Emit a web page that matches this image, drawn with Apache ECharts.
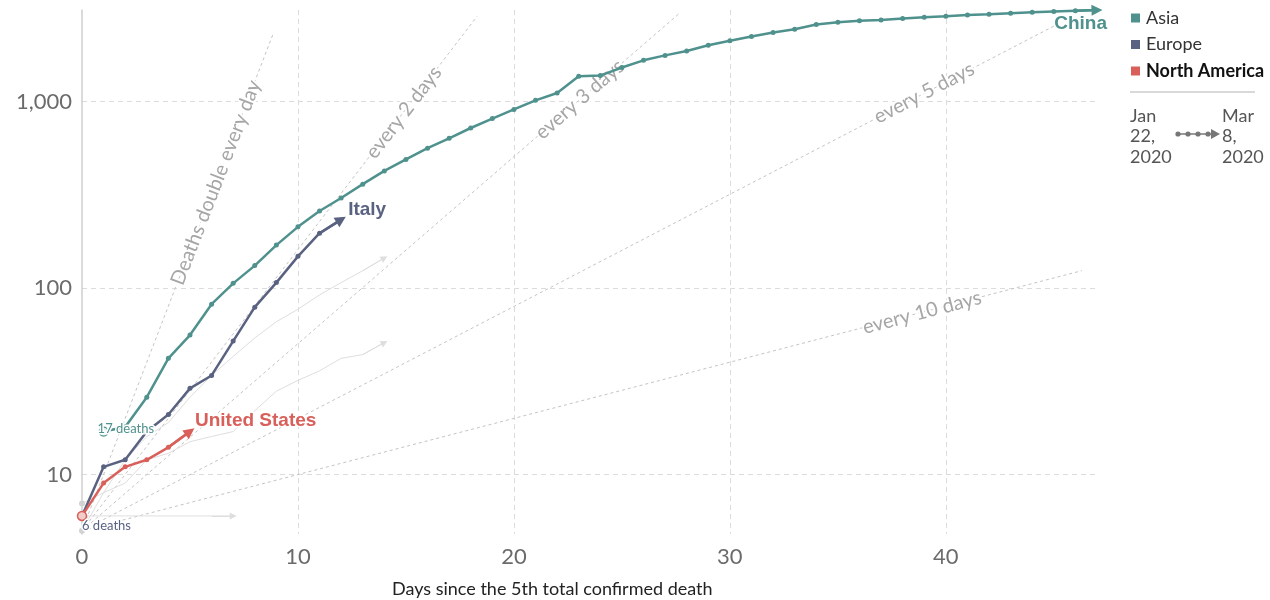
<!DOCTYPE html>
<html>
<head>
<meta charset="utf-8">
<script src="https://cdn.jsdelivr.net/npm/echarts@6/dist/echarts.min.js"></script>
<style>
html,body{margin:0;padding:0;background:#fff;}
#chart{width:1270px;height:600px;}
</style>
</head>
<body>
<div id="chart"></div>
<script>
// ---------- data ----------
const chinaStartDay = 1;
const chinaDeaths = [17,18,26,42,56,82,106,132,170,213,259,304,361,425,490,563,636,722,811,908,
  1016,1113,1368,1380,1523,1665,1770,1868,2004,2118,2236,2345,2442,2592,2663,2715,2744,2788,2835,2870,
  2912,2943,2981,3012,3042,3070,3097];
const italyStartDay = 0;
const italyDeaths = [6,11,12,17,21,29,34,52,79,107,148,197,233];
const usStartDay = 0;
const usDeaths = [6,9,11,12,14,17];
// other countries (unlabelled light-grey lines)
const otherStartDay = 0;
const otherA = [5,8,12,16,19,26,34,43,54,66,77,92,107,124,145];
const otherB = [7,8,9,12,13,15,16,17,22,28,32,36,42,44,51];
const otherC = [6,6,6,6,6,6,6,6];

const xTickLabels = [0,10,20,30,40];
const yTickLabels = [10,100,1000];

// doubling guide lines
const guideNames = ['Deaths double every day','every 2 days','every 3 days','every 5 days','every 10 days'];
const guideStart = [0,5];
const guideEnds = [[8.85,2310],[18.3,2870],[27.7,3000],[45,2540],[46.3,124]];
const guideLabelAt = [[6.2,368],[14.9,875],[23.05,1027],[39.0,1114],[38.9,74]];

const legendNames = ['Asia','Europe','North America'];
const dateFrom = 'Jan\n22,\n2020';
const dateTo = 'Mar\n8,\n2020';
const xAxisTitle = 'Days since the 5th total confirmed death';

// ---------- styling ----------
const teal = '#4f918d', slate = '#5a6281', red = '#d9605a', lightGray = '#dedede';
const FONT = 'Lato, "Open Sans", sans-serif';

function toPairs(values, startDay){ return values.map((v,i)=>[startDay+i, v]); }

function countryLine(name, values, startDay, color, width, opts){
  const pairs = toPairs(values, startDay);
  const n = pairs.length;
  const data = pairs.map((p,i)=>{
    const item = {value:p};
    if (i === 0){
      if (opts.first){ item.symbol='circle'; item.symbolSize=opts.first.size; item.itemStyle=opts.first.style; }
      else item.symbol='none';
    } else if (i === n-1 || !opts.dots){
      item.symbol='none';
    }
    return item;
  });
  return {
    name, type:'line', data, z:opts.z, silent:true, clip:false,
    symbol:'circle', symbolSize:opts.dotSize || 5, showSymbol:true, showAllSymbol:true,
    lineStyle:{color, width}, itemStyle:{color}, color,
    emphasis:{disabled:true},
    markLine:{
      silent:true, animation:false, symbol:['none','triangle'], symbolSize:opts.arrowSize,
      label:{show:false}, emphasis:{disabled:true},
      lineStyle:{color, width, type:'solid'},
      data:[[{coord:pairs[n-2]},{coord:pairs[n-1]}]]
    }
  };
}

const series = [];
guideNames.forEach((nm,i)=>{
  series.push({
    name:nm, type:'line', data:[guideStart, guideEnds[i]], symbol:'none', z:1, silent:true, clip:false,
    lineStyle:{color:'#c4c4c4', width:1, type:[3,3]}, emphasis:{disabled:true}
  });
});
const grayFirst = {size:6, style:{color:'#d2d2d2'}};
series.push(countryLine('otherA', otherA, otherStartDay, lightGray, 1, {z:2, first:grayFirst, dots:false, arrowSize:7}));
series.push(countryLine('otherB', otherB, otherStartDay, lightGray, 1, {z:2, first:grayFirst, dots:false, arrowSize:7}));
series.push(countryLine('otherC', otherC, otherStartDay, lightGray, 1, {z:2, first:grayFirst, dots:false, arrowSize:7}));
series.push(countryLine('Europe', italyDeaths, italyStartDay, slate, 2.5, {z:3, dots:true, arrowSize:11}));
series.push(countryLine('North America', usDeaths, usStartDay, red, 2.5,
  {z:4, dots:true, arrowSize:11, first:{size:9, style:{color:'#f2cdca', borderColor:red, borderWidth:1.5}}}));
series.push(countryLine('Asia', chinaDeaths, chinaStartDay, teal, 2.5,
  {z:5, dots:true, arrowSize:11, first:{size:9, style:{color:'#e6f0ef', borderColor:teal, borderWidth:1.2}}}));

const chart = echarts.init(document.getElementById('chart'), null, {renderer:'canvas'});
const option = {
  animation:false,
  backgroundColor:'#fff',
  title:{
    text:xAxisTitle, left:392, top:579, padding:0,
    textStyle:{fontFamily:FONT, fontSize:18, fontWeight:'normal', color:'#222', lineHeight:20}
  },
  legend:{
    orient:'vertical', left:1131, top:9, padding:0, itemWidth:9, itemHeight:9, itemGap:8.5, icon:'rect',
    selectedMode:false,
    textStyle:{fontFamily:FONT, fontSize:18, color:'#333', lineHeight:18, padding:[0,0,0,1]},
    data:[
      {name:legendNames[0]},
      {name:legendNames[1]},
      {name:legendNames[2], textStyle:{fontWeight:'bold', color:'#111'}}
    ]
  },
  grid:{left:82, right:173, top:10, bottom:66, containLabel:false, outerBoundsMode:'none'},
  xAxis:{
    type:'value', min:0, max:47, interval:10,
    axisLine:{show:false}, axisTick:{show:false},
    axisLabel:{fontFamily:FONT, fontSize:22, color:'#6b6b6b', margin:12, showMaxLabel:false,
      formatter:v=> xTickLabels.includes(v) ? String(v) : ''},
    splitLine:{show:true, showMinLine:false, showMaxLine:false, lineStyle:{color:'#dcdcdc', width:1, type:[5,4]}}
  },
  yAxis:{
    type:'log', logBase:10, min:4.8, max:3100,
    axisLine:{show:true, lineStyle:{color:'#cfcfcf', width:1.5}}, axisTick:{show:false},
    axisLabel:{fontFamily:FONT, fontSize:22, color:'#6b6b6b', margin:10, showMinLabel:false, showMaxLabel:false,
      formatter:v=>{ const r=Math.round(v); return yTickLabels.includes(r) ? r.toLocaleString('en-US') : ''; }},
    splitLine:{show:true, showMinLine:false, showMaxLine:false, lineStyle:{color:'#dcdcdc', width:1, type:[5,4]}}
  },
  series
};
chart.setOption(option);

// ---------- annotations positioned through the chart's own scales ----------
const px = p => chart.convertToPixel({gridIndex:0}, p);
const graphics = [];
guideNames.forEach((nm,i)=>{
  const s = px(guideStart), e = px(guideEnds[i]), c = px(guideLabelAt[i]);
  const ang = Math.atan2(s[1]-e[1], e[0]-s[0]);
  graphics.push({type:'text', x:c[0], y:c[1], rotation:ang, z:3, silent:true,
    style:{text:nm, fill:'#a6a6a6', font:'20px '+FONT, align:'center', verticalAlign:'middle',
      textAlign:'center', textVerticalAlign:'middle', stroke:'#fff', lineWidth:4}});
});
const chinaPairs = toPairs(chinaDeaths, chinaStartDay);
const italyPairs = toPairs(italyDeaths, italyStartDay);
const usPairs = toPairs(usDeaths, usStartDay);
const labelSpecs = [
  {text:'China', p:chinaPairs[chinaPairs.length-1], dx:10, dy:14, align:'right', color:teal, font:'bold 19px "Liberation Sans", Arial, sans-serif'},
  {text:'Italy', p:italyPairs[italyPairs.length-1], dx:7, dy:-10, align:'left', color:slate, font:'bold 19px "Liberation Sans", Arial, sans-serif'},
  {text:'United States', p:usPairs[usPairs.length-1], dx:5, dy:-11, align:'left', color:red, font:'bold 19px "Liberation Sans", Arial, sans-serif'},
  {text:'17 deaths', p:chinaPairs[0], dx:-6, dy:-3, align:'left', color:teal, font:'13px '+FONT},
  {text:'6 deaths', p:italyPairs[0], dx:0, dy:10, align:'left', color:slate, font:'13px '+FONT}
];
labelSpecs.forEach(l=>{
  const q = px(l.p);
  graphics.push({type:'text', x:q[0]+l.dx, y:q[1]+l.dy, z:10, silent:true,
    style:{text:l.text, fill:l.color, font:l.font, align:l.align, verticalAlign:'middle',
      textAlign:l.align, textVerticalAlign:'middle', stroke:'#fff', lineWidth:3}});
});
// legend extras: separator and date range
graphics.push({type:'line', silent:true, shape:{x1:1130, y1:92, x2:1255, y2:92}, style:{stroke:'#cccccc', lineWidth:1.5}});
graphics.push({type:'text', x:1130, y:105.5, silent:true,
  style:{text:dateFrom, fill:'#555', font:'18px '+FONT, lineHeight:20.5, align:'left', verticalAlign:'top', textAlign:'left', textVerticalAlign:'top'}});
graphics.push({type:'text', x:1222, y:105.5, silent:true,
  style:{text:dateTo, fill:'#555', font:'18px '+FONT, lineHeight:20.5, align:'left', verticalAlign:'top', textAlign:'left', textVerticalAlign:'top'}});
graphics.push({type:'line', silent:true, shape:{x1:1177, y1:134, x2:1212, y2:134}, style:{stroke:'#777', lineWidth:1.5}});
[1178,1188,1198,1208].forEach(cx=>{
  graphics.push({type:'circle', silent:true, shape:{cx, cy:134, r:2.6}, style:{fill:'#777'}});
});
graphics.push({type:'polygon', silent:true, shape:{points:[[1211,129],[1220,134],[1211,139]]}, style:{fill:'#777'}});

chart.setOption({graphic:graphics});
</script>
</body>
</html>
